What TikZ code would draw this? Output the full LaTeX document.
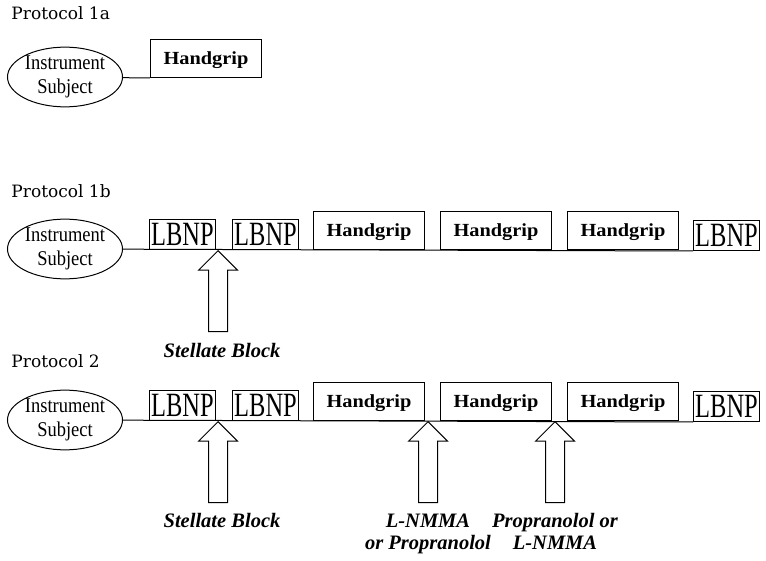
\documentclass[tikz,border=0pt]{standalone}
\usepackage{fontspec}
\setmainfont{Liberation Serif}
\newfontfamily\titlefont{DejaVu Serif}
\newfontfamily\lbnpfont[FakeStretch=0.72]{Liberation Serif}
\newfontfamily\subjfont[FakeStretch=0.88]{Liberation Serif}
\newfontfamily\gripfont[FakeStretch=1.1]{Liberation Serif}
\usetikzlibrary{shapes.geometric,shapes.arrows}

\begin{document}
\begin{tikzpicture}[x=1pt,y=-1pt,line width=1pt,
   title/.style={anchor=base west,inner sep=0,font=\titlefont\fontsize{17}{20}\selectfont},
   subj/.style={draw,ellipse,minimum width=115pt,minimum height=59pt,inner sep=0,align=center,font=\subjfont\fontsize{21}{24}\selectfont},
   lbnp/.style={draw,anchor=south west,minimum width=66pt,minimum height=30pt,inner sep=0,font=\lbnpfont\fontsize{34}{34}\selectfont},
   grip/.style={draw,anchor=south west,minimum width=111pt,minimum height=38pt,inner sep=0,text depth=0pt,font=\gripfont\bfseries\fontsize{18.5}{20}\selectfont},
   block/.style={draw,single arrow,rotate=90,anchor=tip,minimum height=81pt,minimum width=38pt,single arrow head extend=10pt,inner xsep=0,inner ysep=9pt},
   drug/.style={anchor=north,align=center,inner sep=0,font=\bfseries\itshape\fontsize{20.5}{22}\selectfont}]
         \useasboundingbox (0,0) rectangle (766,561);
         % protocol 1a
         \node[title] (T1) at (11,20) {Protocol 1a};
         \node[subj] (S1) at (65,77) {Instrument\\Subject};
         \node[grip] (G1) at (150,78) {Handgrip};
         \draw (S1) -- (G1.south west);
         % protocol 1b
         \node[title] (T2) at (11,198) {Protocol 1b};
         \node[subj] (S2) at (65,249) {Instrument\\Subject};
         \node[lbnp] (B1) at (149,250) {LBNP};
         \node[lbnp] (B2) at (232,250) {LBNP};
         \node[grip] (B3) at (313,250) {Handgrip};
         \node[grip] (B4) at (440,250) {Handgrip};
         \node[grip] (B5) at (567,250) {Handgrip};
         \node[lbnp] (B6) at (693,251) {LBNP};
         \draw (S2) -- (B6.south west);
         \node[block] (A1) at (218,250) {};
         \node[drug] (D1) at (222,343) {Stellate Block};
         % protocol 2
         \node[title] (T3) at (11,368) {Protocol 2};
         \node[subj] (S3) at (65,420) {Instrument\\Subject};
         \node[lbnp] (C1) at (149,421) {LBNP};
         \node[lbnp] (C2) at (232,421) {LBNP};
         \node[grip] (C3) at (313,421) {Handgrip};
         \node[grip] (C4) at (440,421) {Handgrip};
         \node[grip] (C5) at (567,421) {Handgrip};
         \node[lbnp] (C6) at (693,422) {LBNP};
         \draw (S3) -- (C6.south west);
         \node[block] (A2) at (218,421) {};
         \node[block] (A3) at (428,421) {};
         \node[block] (A4) at (555,421) {};
         \node[drug] (D2) at (222,513) {Stellate Block};
         \node[drug] (D3) at (428,513) {L-NMMA\\or Propranolol};
         \node[drug] (D4) at (555,513) {Propranolol or\\L-NMMA};
      \end{tikzpicture}
\end{document}
